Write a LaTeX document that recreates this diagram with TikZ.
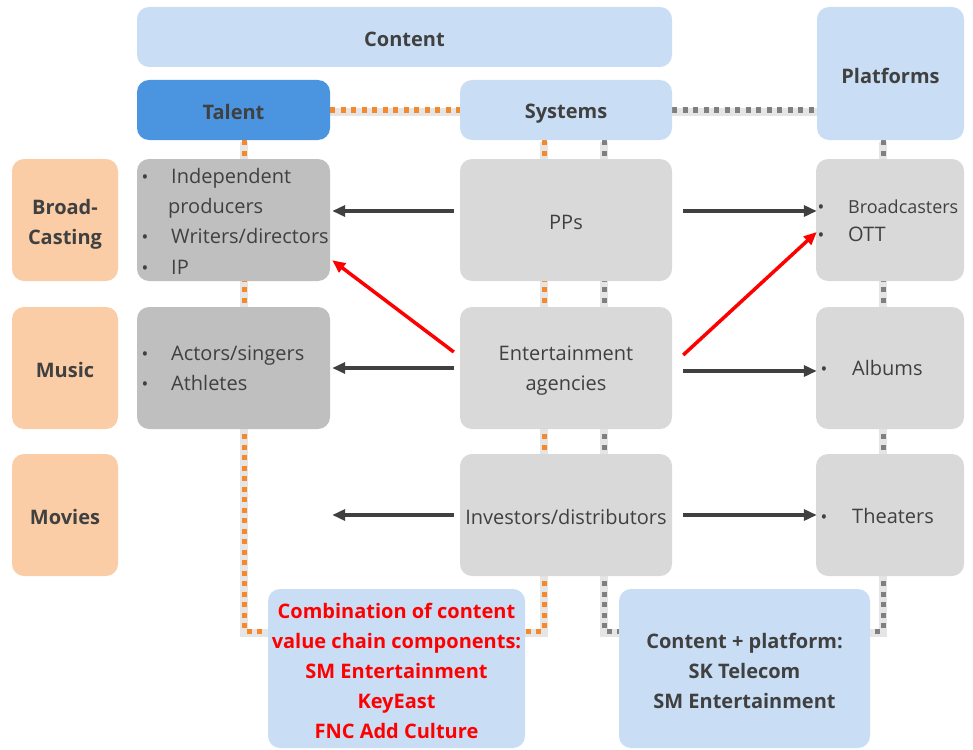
\documentclass[tikz,border=0pt]{standalone}
\usepackage{fontspec}
\setmainfont{Open Sans}
\usetikzlibrary{arrows.meta,backgrounds}

\definecolor{paleblue}{HTML}{C9DEF4}
\definecolor{talentblue}{HTML}{4A94E0}
\definecolor{peach}{HTML}{FACDA6}
\definecolor{midgray}{HTML}{BFBFBF}
\definecolor{lightgray}{HTML}{D9D9D9}
\definecolor{textgray}{HTML}{404040}
\definecolor{dotorange}{HTML}{F5882A}
\definecolor{dotgray}{HTML}{7F7F7F}

\tikzset{
  box/.style={rounded corners=12pt, inner sep=0pt},
  bluebox/.style={box, fill=paleblue},
  sectorbox/.style={box, fill=peach, minimum width=106pt, minimum height=122pt},
  talentbox/.style={box, fill=midgray, minimum width=193pt, minimum height=122pt},
  systembox/.style={box, fill=lightgray, minimum width=212pt, minimum height=122pt},
  platformbox/.style={box, fill=lightgray, minimum width=148pt, minimum height=122pt},
  caption/.style={inner sep=0pt, align=center, text=textgray, yshift=-2pt,
    font=\fontsize{20}{30}\selectfont},
  boldcaption/.style={caption, font=\bfseries\fontsize{20}{30}\selectfont},
  item/.style={anchor=base west, inner sep=0pt, text=textgray, font=\fontsize{20}{24}\selectfont},
  smallitem/.style={item, font=\fontsize{18}{22}\selectfont},
  bul/.style={anchor=base, inner sep=0pt, text=textgray, font=\fontsize{18}{22}\selectfont},
  flow/.style={draw=textgray, line width=3.5pt, -{Triangle[length=13pt,width=11pt]}},
  redflow/.style={flow, draw=red},
  linkorange/.style={draw=dotorange, line width=5pt, dash pattern=on 5pt off 5.5pt},
  linkgray/.style={draw=dotgray, line width=5pt, dash pattern=on 5pt off 5.5pt},
  linkshadow/.style={draw=black, opacity=0.10, line width=8pt, transform canvas={yshift=-2pt}},
}

\begin{document}
\begin{tikzpicture}[x=1pt,y=-1pt]
\useasboundingbox (0,0) rectangle (973,749);

% column headers
\node[bluebox, minimum width=535pt, minimum height=60pt] (content) at (404.5,37) {};
\node[bluebox, minimum width=147pt, minimum height=133pt] (platforms) at (890.5,73.5) {};
\node[box, fill=talentblue, minimum width=193pt, minimum height=60pt] (talent) at (233.5,110) {};
\node[bluebox, minimum width=212pt, minimum height=60pt] (systems) at (566,110) {};

% sector labels
\node[sectorbox] (broad) at (65,220) {};
\node[sectorbox] (music) at (65,368) {};
\node[sectorbox] (movies) at (65,515) {};

% talent column
\node[talentbox] (indep) at (233.5,220) {};
\node[talentbox] (actors) at (233.5,368) {};

% systems column
\node[systembox] (pps) at (566,220) {};
\node[systembox] (agencies) at (566,368) {};
\node[systembox] (investors) at (566,515) {};

% platforms column
\node[platformbox] (bcast) at (890,220) {};
\node[platformbox] (albums) at (890,368) {};
\node[platformbox] (theaters) at (890,515) {};

% summary boxes
\node[bluebox, minimum width=257pt, minimum height=159pt] (combo) at (396.5,668.5) {};
\node[bluebox, minimum width=251pt, minimum height=159pt] (cp) at (744.5,668.5) {};

% box captions
\node[boldcaption] (content-t) at (content) {Content};
\node[boldcaption] (platforms-t) at (platforms) {Platforms};
\node[boldcaption] (talent-t) at (talent) {Talent};
\node[boldcaption, yshift=-2pt] (systems-t) at (systems) {Systems};
\node[boldcaption, yshift=-2pt] (broad-t) at (broad) {Broad-\\Casting};
\node[boldcaption] (music-t) at (music) {Music};
\node[boldcaption] (movies-t) at (movies) {Movies};
\node[caption] (pps-t) at (pps) {PPs};
\node[caption, yshift=-1pt] (agencies-t) at (agencies) {Entertainment\\agencies};
\node[caption] (investors-t) at (investors) {Investors/distributors};
\node[boldcaption, text=red] (combo-t) at (combo) 
  {Combination of content\\value chain components:\\SM Entertainment\\KeyEast\\FNC Add Culture};
\node[boldcaption] (cp-t) at (cp) {Content + platform:\\SK Telecom\\SM Entertainment};

% bullet lists
\node[bul] (ib1) at (145,183) {•};
\node[item] (it1) at (171,183) {Independent};
\node[item] (it2) at (168,213) {producers};
\node[bul] (ib2) at (145,243) {•};
\node[item] (it3) at (171,243) {Writers/directors};
\node[bul] (ib3) at (145,274) {•};
\node[item] (it4) at (171,274) {IP};

\node[bul] (ab1) at (145,360) {•};
\node[item] (at1) at (171,360) {Actors/singers};
\node[bul] (ab2) at (145,390) {•};
\node[item] (at2) at (171,390) {Athletes};

\node[bul] (bb1) at (821,213) {•};
\node[smallitem] (bt1) at (848,213) {Broadcasters};
\node[bul] (bb2) at (821,241) {•};
\node[item] (bt2) at (848,241) {OTT};

\node[bul] (lb1) at (824,375) {•};
\node[item] (lt1) at (852,375) {Albums};
\node[bul] (tb1) at (824,523) {•};
\node[item] (tt1) at (852,523) {Theaters};

% drop points of the dotted links
\coordinate (tdrop) at (244,631);
\coordinate (sdrop) at (544,631);
\coordinate (gdrop) at (604,631);
\coordinate (pdrop) at (883,631);

\begin{scope}[on background layer]
  \foreach \s in {linkshadow}{
    \draw[\s] (talent.east) -- (systems.west);
    \draw[\s] (systems.east) -- (systems.east -| platforms.west);
    \draw[\s] (talent.south -| tdrop) -- (tdrop) -- (tdrop -| combo.west);
    \draw[\s] (systems.south -| sdrop) -- (sdrop) -- (sdrop -| combo.east);
    \draw[\s] (systems.south -| gdrop) -- (gdrop) -- (gdrop -| cp.west);
    \draw[\s] (platforms.south -| pdrop) -- (pdrop) -- (pdrop -| cp.east);
  }
  \draw[linkorange] (talent.east) -- (systems.west);
  \draw[linkgray] (systems.east) -- (systems.east -| platforms.west);
  \draw[linkorange] (talent.south -| tdrop) -- (tdrop) -- (tdrop -| combo.west);
  \draw[linkorange] (systems.south -| sdrop) -- (sdrop) -- (sdrop -| combo.east);
  \draw[linkgray] (systems.south -| gdrop) -- (gdrop) -- (gdrop -| cp.west);
  \draw[linkgray] (platforms.south -| pdrop) -- (pdrop) -- (pdrop -| cp.east);
\end{scope}

% flows out of the systems column
\draw[flow] ([xshift=-6pt,yshift=9pt]pps.west) -- ([xshift=2pt,yshift=9pt]indep.east);
\draw[flow] ([xshift=11pt,yshift=9pt]pps.east) -- ([xshift=1pt,yshift=9pt]bcast.west);
\draw[flow] ([xshift=-6pt]agencies.west) -- ([xshift=2pt]actors.east);
\draw[flow] ([xshift=11pt,yshift=-3pt]agencies.east) -- ([xshift=1pt,yshift=-3pt]albums.west);
\draw[flow] ([xshift=-6pt]investors.west) -- ([xshift=2pt]investors.west -| indep.east);
\draw[flow] ([xshift=11pt]investors.east) -- ([xshift=1pt]theaters.west);
\draw[redflow] ([xshift=-6pt,yshift=16pt]agencies.west) -- ([xshift=2pt,yshift=21pt]indep.south east);
\draw[redflow] ([xshift=11pt,yshift=13pt]agencies.east) -- ([xshift=1pt,yshift=-12pt]bcast.west);
\end{tikzpicture}
\end{document}
